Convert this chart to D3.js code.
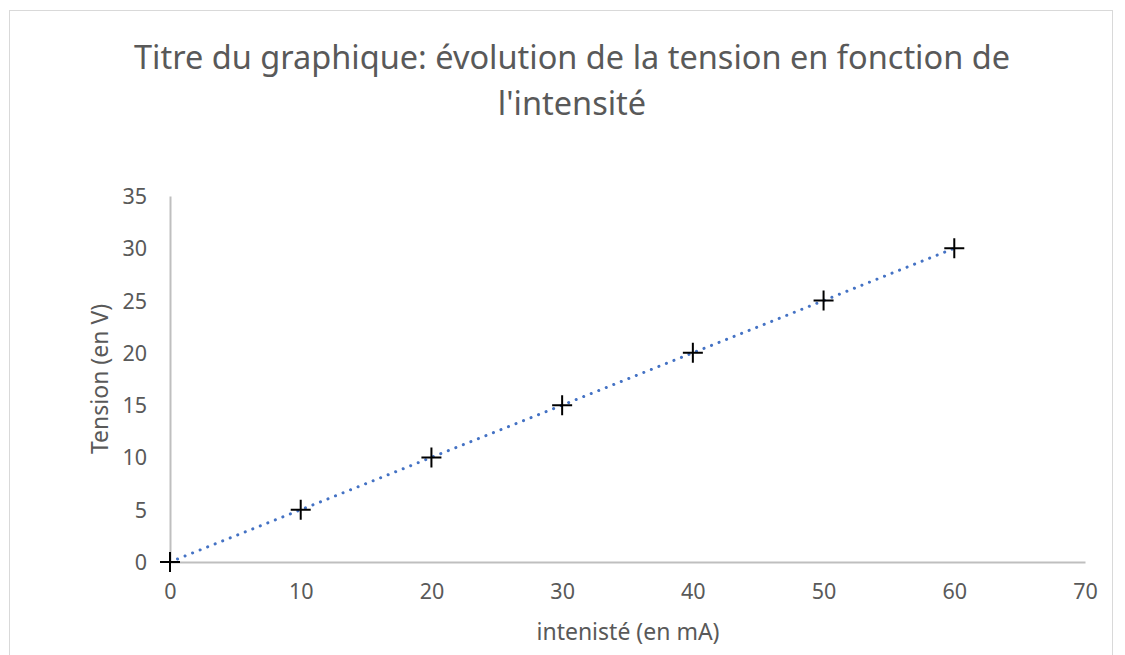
<!DOCTYPE html>
<html lang="fr">
  <head>
    <meta charset="UTF-8" />
    <title>Tension / intensité</title>
    <style>
      body { margin: 0; background: #fff; }
      text { font-family: "Noto Sans", "Open Sans", sans-serif; fill: #595959; }
    </style>
  </head>
  <body>
    <script src="https://d3js.org/d3.v7.min.js"></script>
    <script>
      const intensite = [0, 10, 20, 30, 40, 50, 60];
      const tension = [0, 5, 10, 15, 20, 25, 30];
      const xTicks = [0, 10, 20, 30, 40, 50, 60, 70];
      const yTicks = [0, 5, 10, 15, 20, 25, 30, 35];
      const titleLines = ["Titre du graphique: évolution de la tension en fonction de", "l'intensité"];

      const width = 1125;
      const height = 655;
      const margin = { top: 196, right: 40, bottom: 93, left: 170 };

      const svg = d3
        .select("body")
        .append("svg")
        .attr("width", width)
        .attr("height", height);

      // chart border
      svg.append("rect")
        .attr("x", 9.5).attr("y", 10.5)
        .attr("width", 1103).attr("height", 660)
        .attr("fill", "none")
        .attr("stroke", "#d9d9d9");

      const x = d3.scaleLinear().domain([0, 70]).range([margin.left, width - margin.right]);
      const y = d3.scaleLinear().domain([0, 35]).range([height - margin.bottom, margin.top]);

      // axes
      const xAxis = svg.append("g")
        .attr("transform", `translate(0,${y(0)})`)
        .call(d3.axisBottom(x).tickValues(xTicks).tickSize(0).tickPadding(22));
      const yAxis = svg.append("g")
        .attr("transform", `translate(${x(0)},0)`)
        .call(d3.axisLeft(y).tickValues(yTicks).tickSize(0).tickPadding(23));

      [xAxis, yAxis].forEach((g) => {
        g.select(".domain").attr("stroke", "#bfbfbf").attr("stroke-width", 2);
        g.selectAll("text").style("font-size", "21.5px").attr("fill", "#595959");
      });
      yAxis.selectAll("text").attr("dy", "0.35em");

      // title
      svg.append("text")
        .attr("text-anchor", "middle")
        .style("font-size", "32.5px")
        .selectAll("tspan")
        .data(titleLines)
        .join("tspan")
        .attr("x", 572)
        .attr("y", (d, i) => 69 + i * 46)
        .text((d) => d);

      // axis titles
      svg.append("text")
        .attr("text-anchor", "middle")
        .attr("transform", `translate(108,${(y(0) + y(35)) / 2}) rotate(-90)`)
        .style("font-size", "23px")
        .text("Tension (en V)");

      svg.append("text")
        .attr("text-anchor", "middle")
        .attr("x", 628)
        .attr("y", 640)
        .style("font-size", "23px")
        .text("intenisté (en mA)");

      // linear trendline (dotted)
      const mx = d3.mean(intensite), my = d3.mean(tension);
      const slope = d3.sum(intensite, (v, i) => (v - mx) * (tension[i] - my)) /
        d3.sum(intensite, (v) => (v - mx) ** 2);
      const inter = my - slope * mx;
      const x0 = d3.min(intensite), x1 = d3.max(intensite);

      svg.append("line")
        .attr("x1", x(x0)).attr("y1", y(inter + slope * x0))
        .attr("x2", x(x1)).attr("y2", y(inter + slope * x1))
        .attr("stroke", "#4472c4")
        .attr("stroke-width", 3)
        .attr("stroke-linecap", "round")
        .attr("stroke-dasharray", "0.1 8");

      // markers (plus signs)
      const pts = intensite.map((v, i) => ({ x: v, y: tension[i] }));
      svg.append("g")
        .selectAll("path")
        .data(pts)
        .join("path")
        .attr("transform", (d) => `translate(${x(d.x)},${y(d.y)})`)
        .attr("d", "M-10,0H10M0,-10V10")
        .attr("stroke", "#000")
        .attr("stroke-width", 2);
    </script>
  </body>
</html>
